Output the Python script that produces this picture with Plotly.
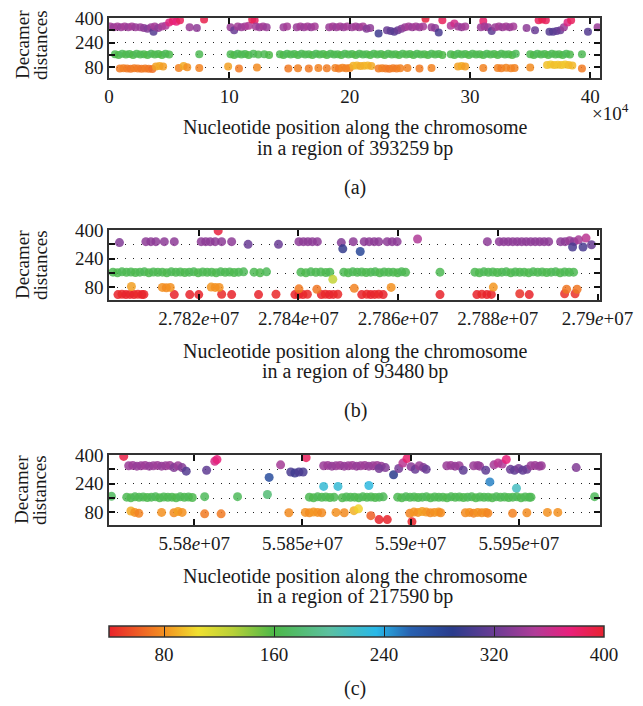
import plotly.graph_objects as go

# ---------------- DATA ----------------
# Panel (a): positions in kb, decamer distances
A_PURPLE_X = [1, 4, 7, 10, 13, 16, 19, 22, 26, 29, 32, 35, 37, 38, 41, 44, 47, 50, 53, 56, 59, 67, 73, 79,
              101, 104, 107, 110, 113, 116, 119, 121, 122, 125, 128, 131, 145, 148, 156, 159, 162, 165, 168, 171,
              183, 186, 189, 192, 195, 198, 202, 205, 208, 211, 214, 217, 224, 231, 234, 237, 240, 243, 246,
              249, 252, 255, 258, 261, 263, 268, 271, 274, 277, 284, 287, 290, 293, 296,
              309, 311, 312, 315, 318, 321, 324, 327, 330, 333, 336, 347, 354,
              357, 360, 363, 366, 369, 372, 375, 378, 381, 384, 398, 406]
A_PURPLE_Y = [345, 340, 345, 340, 345, 340, 345, 340, 340, 335, 330, 340, 310, 345, 335, 345, 350, 370, 380, 375, 385, 340, 335, 390,
              340, 320, 345, 340, 345, 350, 390, 385, 345, 340, 345, 340, 340, 345, 340, 345, 340, 345, 340, 345,
              340, 345, 340, 345, 340, 345, 340, 345, 340, 345, 330, 335, 300, 320, 315, 310, 320, 330, 340,
              345, 340, 345, 340, 345, 395, 340, 335, 305, 385, 350, 365, 345, 340, 345,
              340, 380, 345, 340, 315, 340, 345, 340, 345, 340, 345, 335, 320,
              385, 390, 385, 310, 310, 315, 320, 340, 370, 385, 310, 340]

A_GREEN_X = [5, 8, 11, 14, 17, 20, 23, 26, 29, 32, 35, 38, 41, 44, 47, 50, 75,
             101, 104, 107, 110, 113, 116, 120, 124, 129, 133,
             142, 145, 148, 151, 154, 157, 160, 163, 166, 169, 172, 175, 178, 181, 184, 187, 190, 193, 196, 199,
             202, 205, 208, 211, 214, 217, 220, 223, 226, 229, 232, 235, 238, 241, 244, 247, 250, 253, 256, 259,
             262, 265, 268, 271, 274, 277,
             284, 287, 290, 293, 296, 299, 302, 305, 308, 311, 314, 317, 320, 323, 326, 329, 332, 335, 338,
             350, 353, 356, 359, 362, 365, 368, 371, 374, 377, 380, 383, 393]
A_GREEN_Y = [165, 160, 168, 162, 166, 160, 167, 163, 165, 160, 168, 162, 166, 160, 167, 163, 165,
             165, 160, 168, 162, 166, 160, 167, 163, 165, 160,
             165, 160, 168, 162, 166, 160, 167, 163, 165, 160, 168, 162, 166, 160, 167, 163, 165, 160, 168, 162,
             166, 160, 167, 163, 165, 160, 168, 162, 166, 160, 167, 163, 165, 160, 168, 162, 166, 160, 167, 163,
             165, 160, 168, 162, 166, 160,
             165, 160, 168, 162, 166, 160, 167, 163, 165, 160, 168, 162, 166, 160, 167, 163, 165, 160, 168,
             165, 160, 168, 162, 166, 160, 167, 163, 165, 160, 168, 162, 165]

A_ORANGE_X = [9, 12, 15, 18, 21, 24, 27, 30, 33, 36, 39, 42, 45, 58, 62, 65, 75, 99, 108, 123,
              149, 157, 166, 174, 181, 188, 191, 194, 197, 200, 203, 206, 209, 212, 215, 218,
              224, 227, 230, 233, 236, 239, 242, 248, 258, 268, 290, 293, 296, 311,
              323, 326, 330, 334, 337, 350, 364, 367, 370, 373, 376, 379, 382, 385, 393]
A_ORANGE_Y = [72, 74, 72, 70, 73, 72, 70, 72, 70, 68, 85, 88, 84, 75, 88, 80, 75, 85, 72, 78,
              72, 74, 72, 75, 73, 75, 72, 76, 74, 75, 90, 92, 88, 90, 92, 88,
              72, 74, 72, 70, 73, 72, 74, 75, 72, 75, 85, 88, 84, 75,
              75, 73, 76, 74, 75, 78, 95, 97, 94, 96, 95, 97, 94, 92, 72]

# Panel (b): positions in kb
B_PURPLE_X = [27804.1, 27809.4, 27810.4, 27811.4, 27813.1, 27815.1, 27820.5, 27821.4, 27822.3, 27823.3, 27823.9,
              27824.6, 27826.6, 27829.9, 27836.0, 27840.1, 27841.0, 27841.9, 27842.8, 27843.8,
              27848.6, 27848.9, 27851.0, 27852.4, 27853.2, 27854.2, 27855.2, 27856.1, 27857.8, 27858.8, 27859.8,
              27863.9, 27877.9, 27880.3, 27881.2, 27882.1, 27883.0, 27883.9, 27884.8, 27885.7, 27886.6, 27887.5,
              27888.4, 27889.3, 27890.2, 27892.6, 27893.5, 27894.4, 27895.3, 27895.0, 27896.2, 27897.1, 27897.7, 27898.8]
B_PURPLE_Y = [330, 335, 335, 335, 335, 335, 335, 335, 335, 335, 395,
              335, 335, 320, 320, 335, 335, 335, 335, 335,
              330, 295, 335, 280, 335, 335, 335, 335, 335, 335, 335,
              350, 335, 335, 335, 335, 335, 335, 335, 335, 335, 335,
              335, 335, 335, 335, 335, 340, 335, 305, 345, 305, 355, 318]

B_GREEN_X = [27802.8, 27803.7, 27804.6, 27805.5, 27806.4, 27807.3, 27808.2, 27809.1, 27810.0, 27810.9, 27811.8,
             27812.7, 27813.6, 27814.5, 27815.4, 27816.3, 27817.2, 27818.1, 27819.0, 27819.9, 27820.8, 27821.7,
             27822.6, 27823.5, 27824.4, 27825.3, 27826.2, 27827.1, 27828.0, 27829.0,
             27831.1, 27832.3, 27833.6, 27840.5, 27841.5, 27842.5, 27843.5, 27844.5, 27845.5, 27846.3, 27846.9,
             27849.1, 27850.0, 27850.9, 27851.8, 27852.7, 27853.6, 27854.5, 27855.4, 27856.3, 27857.2, 27858.1,
             27859.0, 27859.9, 27860.7, 27861.5, 27868.4,
             27875.4, 27876.3, 27877.2, 27878.1, 27879.0, 27879.9, 27880.8, 27881.7, 27882.6, 27883.5, 27884.4,
             27885.3, 27886.2, 27887.1, 27888.0, 27888.9, 27889.8, 27890.7, 27891.6, 27892.5, 27893.4, 27894.3, 27895.2]
B_GREEN_Y = [165, 162, 167, 164, 166, 163, 165, 167, 162, 166, 164,
             165, 162, 167, 164, 166, 163, 165, 167, 162, 166, 164,
             165, 162, 167, 164, 166, 163, 165, 167,
             165, 162, 167, 165, 162, 167, 164, 166, 163, 165, 125,
             165, 162, 167, 164, 166, 163, 165, 167, 162, 166, 164,
             165, 162, 167, 164, 165,
             165, 162, 167, 164, 166, 163, 165, 167, 162, 166, 164,
             165, 162, 167, 164, 166, 163, 165, 167, 162, 166, 164, 165]

B_LOW_X = [27803.8, 27804.6, 27805.4, 27806.2, 27807.0, 27807.8, 27808.6, 27809.0, 27815.1, 27818.2, 27820.0,
           27824.6, 27826.6, 27832.0, 27835.5, 27839.3, 27840.1, 27840.9, 27841.8,
           27844.6, 27845.4, 27846.2, 27847.0, 27847.9, 27852.7, 27853.7, 27854.5, 27855.3, 27856.1, 27857.0,
           27868.4, 27875.8, 27876.8, 27877.8, 27878.7, 27884.4, 27886.3, 27893.4, 27895.5,
           27806.5, 27812.7, 27813.5, 27814.3, 27822.5, 27823.3, 27824.1, 27840.1, 27843.7, 27851.2,
           27858.6, 27879.1, 27893.8, 27895.9]
B_LOW_Y = [40, 42, 40, 41, 40, 42, 40, 41, 40, 40, 40,
           42, 40, 40, 42, 40, 41, 40, 42,
           40, 42, 40, 41, 42, 40, 42, 40, 41, 42, 40,
           40, 40, 42, 40, 41, 45, 40, 45, 45,
           85, 80, 78, 80, 82, 80, 80, 72, 70, 75,
           80, 82, 70, 70]

# Panel (c): positions in kb
C_PURPLE_X = [55767.4, 55769.7, 55771.6, 55773.5, 55775.4, 55777.3, 55779.2, 55781.1, 55783.0, 55784.9, 55786.8,
              55788.7, 55790.6, 55792.5, 55794.4, 55796.3, 55805.7, 55809.5, 55810.5, 55834.6, 55839.9,
              55844.6, 55846.5, 55848.4, 55850.3, 55851.7,
              55859.8, 55861.7, 55863.6, 55865.5, 55867.4, 55869.3, 55871.2, 55873.1, 55875.0, 55876.9, 55878.8,
              55880.7, 55882.6, 55884.5, 55886.4, 55888.3, 55885.4, 55892.1,
              55894.5, 55896.4, 55898.3, 55900.2, 55902.1, 55904.0, 55905.9, 55907.2,
              55916.7, 55918.6, 55920.5, 55922.4, 55924.3, 55929.1, 55931.0, 55931.9, 55934.7, 55936.6,
              55938.5, 55940.4, 55942.3, 55944.2, 55946.1, 55948.0, 55949.9, 55951.8, 55953.7,
              55955.6, 55957.5, 55959.4, 55960.4, 55976.5]
C_PURPLE_Y = [392, 340, 342, 338, 340, 342, 338, 340, 342, 338, 340,
              342, 330, 340, 330, 310, 315, 365, 375, 275, 345,
              305, 300, 305, 305, 385,
              340, 342, 338, 340, 342, 338, 340, 342, 338, 340, 342,
              338, 340, 342, 338, 330, 325, 290,
              325, 355, 380, 335, 320, 340, 330, 320,
              340, 342, 338, 340, 315, 340, 342, 338, 315, 250,
              345, 355, 350, 375, 320, 315, 325, 315, 320,
              340, 342, 338, 340, 330]

C_GREEN_X = [55761.7, 55768.8, 55770.7, 55772.6, 55774.5, 55776.4, 55778.3, 55780.2, 55782.1, 55784.0, 55785.9,
             55787.8, 55789.7, 55791.6, 55793.5, 55795.4, 55797.3, 55799.1, 55804.8, 55820.0, 55833.8,
             55853.2, 55855.1, 55857.0, 55858.9, 55859.8, 55860.8, 55862.7, 55864.6, 55866.4, 55868.4, 55870.3,
             55872.2, 55874.1, 55876.0, 55877.9, 55879.8, 55880.7, 55881.7, 55883.6, 55885.5, 55887.3,
             55894.0, 55895.9, 55897.8, 55899.7, 55901.6, 55903.5, 55905.4, 55907.3, 55909.2, 55911.1, 55913.0,
             55914.9, 55916.8, 55918.7, 55920.6, 55922.5, 55924.4, 55926.3, 55928.2, 55930.1, 55932.0, 55933.9,
             55935.8, 55937.7, 55939.6, 55941.5, 55943.4, 55945.3, 55947.2, 55948.9, 55949.1, 55951.0, 55952.9,
             55954.8, 55955.6, 55985.0]
C_GREEN_Y = [170, 165, 162, 167, 164, 166, 163, 165, 167, 162, 166,
             164, 165, 162, 167, 164, 166, 163, 168, 168, 180,
             165, 162, 167, 164, 225, 166, 163, 165, 225, 162, 166,
             164, 165, 162, 167, 164, 230, 166, 163, 165, 167,
             165, 162, 167, 164, 166, 163, 165, 167, 162, 166, 164,
             165, 162, 167, 164, 166, 163, 165, 167, 162, 166, 164,
             165, 162, 167, 164, 166, 163, 165, 215, 167, 162, 166,
             164, 165, 168]

C_LOW_X = [55770.7, 55772.5, 55774.4, 55784.9, 55790.6, 55792.5, 55794.4, 55804.8, 55812.4, 55843.7,
           55851.3, 55853.2, 55855.1, 55857.0, 55858.9, 55865.5, 55869.3, 55873.8, 55875.9, 55881.6,
           55885.4, 55889.2, 55899.6, 55900.6, 55901.5, 55903.4, 55905.3, 55907.2, 55909.1, 55911.0,
           55912.9, 55913.9, 55925.3, 55927.2, 55929.1, 55931.0, 55932.9, 55934.8, 55935.7,
           55947.1, 55953.7, 55963.2, 55968.0]
C_LOW_Y = [88, 80, 75, 80, 78, 85, 80, 72, 72, 78,
           80, 78, 82, 80, 78, 80, 78, 90, 100, 62,
           40, 40, 75, 28, 82, 80, 85, 82, 78, 80,
           82, 78, 78, 80, 76, 80, 78, 80, 76,
           75, 78, 80, 80]

Y_TICKS = [80, 160, 240, 320, 400]
Y_TICK_TEXT = ["80", "", "240", "", "400"]

A_TICKS_KB = [0, 100, 200, 300, 400]
A_TICK_TEXT = ["0", "10", "20", "30", "40"]
B_TICKS_KB = [27820, 27840, 27860, 27880, 27900]
B_TICK_TEXT = ["2.782<i>e</i>+07", "2.784<i>e</i>+07", "2.786<i>e</i>+07", "2.788<i>e</i>+07", "2.79<i>e</i>+07"]
C_TICKS_KB = [55800, 55850, 55900, 55950]
C_TICK_TEXT = ["5.58<i>e</i>+07", "5.585<i>e</i>+07", "5.59<i>e</i>+07", "5.595<i>e</i>+07"]

CBAR_TICKS = [80, 160, 240, 320, 400]
REGION_SIZES = ["393259", "93480", "217590"]
PANEL_LABELS = ["(a)", "(b)", "(c)"]
YLABEL_LINES = ["Decamer", "distances"]

# ---------------- STYLE / LAYOUT ----------------
PAGE_W, PAGE_H = 643, 706
BODY_MARGIN = 8          # default browser body margin around the plot div
W, H = PAGE_W - BODY_MARGIN, PAGE_H - BODY_MARGIN
FONT = "Liberation Serif"
FS_TICK = 19
FS_LAB = 20
FS_Y = 19
TXT = "#1a1a1a"

COLORSCALE = [
    [0.000, "#e8222a"], [0.111, "#f39020"], [0.180, "#f0e030"], [0.250, "#b8d038"],
    [0.333, "#4cb848"], [0.444, "#5cc0a0"], [0.540, "#28b8e8"], [0.610, "#2860b0"],
    [0.694, "#2a3c8c"], [0.778, "#6a3c94"], [0.861, "#b03c98"], [0.930, "#e8207c"],
    [1.000, "#e82230"],
]


def px_x(p):
    # page pixel -> paper fraction
    return (p - BODY_MARGIN) / W


def px_y(p):
    return 1 - (p - BODY_MARGIN) / H


panels = [
    dict(top=18, bottom=78, rows=[(A_PURPLE_X, A_PURPLE_Y), (A_GREEN_X, A_GREEN_Y), (A_ORANGE_X, A_ORANGE_Y)],
         xr=[0, 408000], ticks=A_TICKS_KB, text=A_TICK_TEXT, msize=8),
    dict(top=230, bottom=300, rows=[(B_PURPLE_X, B_PURPLE_Y), (B_GREEN_X, B_GREEN_Y), (B_LOW_X, B_LOW_Y)],
         xr=[27802000, 27900500], ticks=B_TICKS_KB, text=B_TICK_TEXT, msize=9),
    dict(top=455, bottom=525, rows=[(C_PURPLE_X, C_PURPLE_Y), (C_GREEN_X, C_GREEN_Y), (C_LOW_X, C_LOW_Y)],
         xr=[55760600, 55987500], ticks=C_TICKS_KB, text=C_TICK_TEXT, msize=9),
]

LEFT, RIGHT = 109, 600
fig = go.Figure()
annotations = []

for i, p in enumerate(panels):
    sfx = "" if i == 0 else str(i + 1)
    xa, ya = "x" + sfx, "y" + sfx
    for xs, ys in p["rows"]:
        fig.add_trace(go.Scatter(
            x=[v * 1000 for v in xs], y=ys, xaxis=xa, yaxis=ya, mode="markers",
            marker=dict(size=p["msize"], color=ys, coloraxis="coloraxis", opacity=0.85,
                        symbol="circle", line=dict(width=0)),
            showlegend=False, hoverinfo="x+y"))
    common = dict(showline=True, linecolor="#333333", linewidth=1.6, mirror="ticks",
                  ticks="inside", tickcolor="#111111", tickwidth=2, ticklen=6, automargin=False,
                  ticklabeloverflow="allow",
                  tickfont=dict(family=FONT, size=FS_TICK, color=TXT), zeroline=False)
    fig.layout["xaxis" + sfx] = dict(
        domain=[px_x(LEFT), px_x(RIGHT)], anchor=ya, range=p["xr"],
        tickmode="array", tickvals=[t * 1000 for t in p["ticks"]], ticktext=p["text"],
        showgrid=False, **common)
    fig.layout["yaxis" + sfx] = dict(
        domain=[px_y(p["bottom"]), px_y(p["top"])], anchor=xa, range=[10, 400],
        tickmode="array", tickvals=Y_TICKS, ticktext=Y_TICK_TEXT,
        showgrid=True, gridcolor="#222222", gridwidth=1, griddash="1px,7px", **common)

    mid = (p["top"] + p["bottom"]) / 2
    ylab_c = 45 if i == 0 else mid
    for line, xx in zip(YLABEL_LINES, [22, 40]):
        annotations.append(dict(text=line, x=px_x(xx), y=px_y(ylab_c), xref="paper", yref="paper",
                                textangle=-90, showarrow=False, xanchor="center", yanchor="middle",
                                font=dict(family=FONT, size=FS_Y, color=TXT)))
    cx = px_x((LEFT + RIGHT) / 2)
    off = p["bottom"]
    l1 = off + (50 if i == 0 else 51)
    annotations.append(dict(text="Nucleotide position along the chromosome", x=cx, y=px_y(l1),
                            xref="paper", yref="paper", showarrow=False, xanchor="center", yanchor="middle",
                            font=dict(family=FONT, size=FS_LAB, color=TXT)))
    annotations.append(dict(text="in a region of " + REGION_SIZES[i] + "\u2009bp", x=cx, y=px_y(l1 + 20),
                            xref="paper", yref="paper", showarrow=False, xanchor="center", yanchor="middle",
                            font=dict(family=FONT, size=FS_LAB, color=TXT)))

# panel labels
for lab, yy in zip(PANEL_LABELS, [187, 410, 688]):
    annotations.append(dict(text=lab, x=px_x(355), y=px_y(yy), xref="paper", yref="paper", showarrow=False,
                            xanchor="center", yanchor="middle", font=dict(family=FONT, size=FS_LAB, color=TXT)))

annotations.append(dict(text="×10<sup>4</sup>", x=px_x(610), y=px_y(112), xref="paper", yref="paper",
                        showarrow=False, xanchor="center", yanchor="middle",
                        font=dict(family=FONT, size=FS_TICK, color=TXT)))

fig.update_layout(
    width=W, height=H, margin=dict(l=0, r=0, t=0, b=0),
    paper_bgcolor="white", plot_bgcolor="white",
    annotations=annotations,
    coloraxis=dict(
        colorscale=COLORSCALE, cmin=40, cmax=400,
        colorbar=dict(orientation="h", x=px_x((109 + 604) / 2), xanchor="center", lenmode="pixels", len=495,
                      y=px_y(626), yanchor="top", thickness=11, thicknessmode="pixels",
                      outlinewidth=1.5, outlinecolor="#333333", xpad=0, ypad=0,
                      tickmode="array", tickvals=CBAR_TICKS, ticktext=[str(t) for t in CBAR_TICKS],
                      ticks="inside", ticklen=11, tickcolor="#222222", tickwidth=1,
                      tickfont=dict(family=FONT, size=FS_TICK, color=TXT)),
    ),
)

fig.write_html("out.html")
